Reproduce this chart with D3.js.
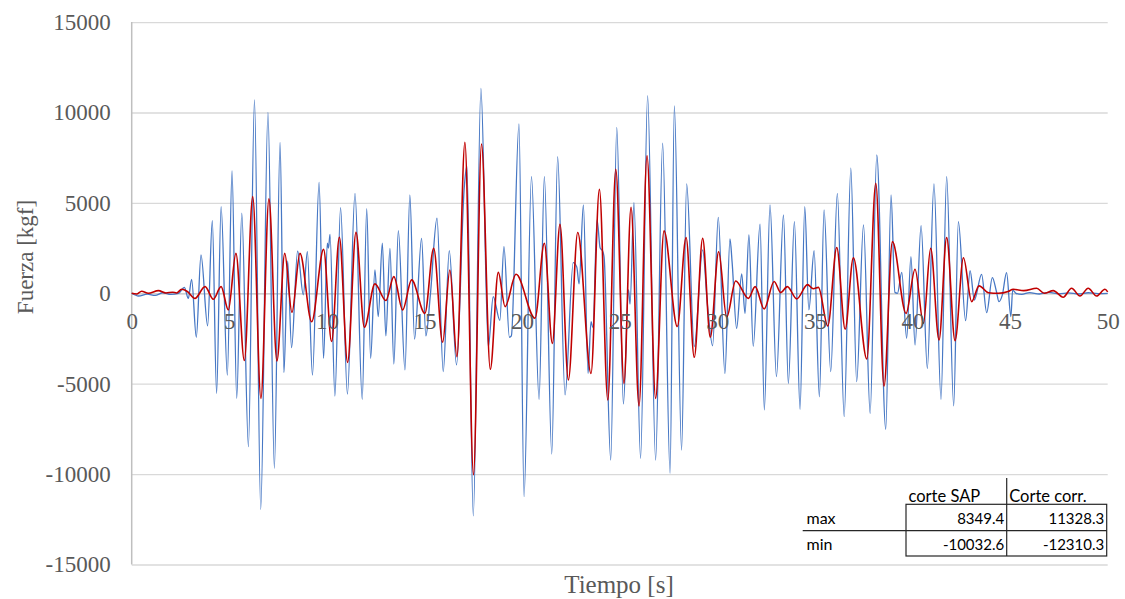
<!DOCTYPE html>
<html>
<head>
<meta charset="utf-8">
<script src="https://cdn.jsdelivr.net/npm/d3@7"></script>
<style>
  html, body { margin: 0; padding: 0; background: #fff; }
  svg { display: block; }
</style>
</head>
<body>
<svg id="chart" width="1125" height="599"></svg>
<script>
// Shear force time history: corrected shear vs. SAP shear (local extrema, kgf)
const timeCorr = [0,0.35,0.8,1.2,1.6,2.0,2.4,2.7,2.9,3.07,3.31,3.55,3.89,4.13,4.35,4.58,4.9,5.14,5.38,5.64,5.98,6.29,6.61,6.98,7.31,7.6,7.8,7.99,8.19,8.5,8.79,9.0,9.26,9.6,9.83,10.02,10.08,10.16,10.41,10.7,11.05,11.44,11.81,12.04,12.24,12.46,12.63,12.84,13.02,13.23,13.43,13.66,14.0,14.25,14.49,14.85,15.07,15.3,15.64,15.96,16.27,16.64,17.04,17.17,17.5,17.89,18.27,18.52,18.86,19.07,19.35,19.45,19.84,20.1,20.48,20.87,21.14,21.52,21.82,22.2,22.62,22.8,22.92,23.14,23.38,23.53,23.63,23.84,24.0,24.12,24.2,24.54,24.85,25.19,25.45,25.53,25.73,26.07,26.43,26.84,27.2,27.58,27.8,28.17,28.43,28.82,29.25,29.5,29.76,30.05,30.39,30.65,30.76,30.99,31.25,31.42,31.62,31.84,32.19,32.41,32.7,33.03,33.39,33.64,33.95,34.24,34.48,34.69,34.96,35.23,35.47,35.81,36.15,36.5,36.84,37.14,37.49,37.83,38.17,38.63,38.9,39.1,39.23,39.45,39.7,39.92,40.13,40.44,40.76,41.1,41.46,41.75,42.11,42.35,42.72,42.95,43.17,43.54,43.8,44.09,44.3,44.43,44.6,44.82,45.04,45.13,45.3,45.6,46.0,46.5,47.0,47.5,48.0,48.5,49.0,49.5,50.0];
const corteCorr = [0,-150,-50,-120,30,-60,0,330,-280,775,-2430,2120,-1800,4020,-5530,4790,-4520,6770,-5810,4430,-8480,10700,-11950,10010,-9680,8350,-4390,1790,-3010,2330,-90,2300,-4520,6140,-3600,2770,2500,3260,-5680,4740,-5570,5530,-5860,4680,-3600,1290,-1290,2770,-2360,2490,-3910,3470,-4240,5440,-2540,3040,-2360,-90,4150,-4330,2360,-3960,5900,7040,-12310.3,11328.3,-2950,-180,-1500,2580,-2430,-2350,9370,-11250,6450,-5860,6450,-8890,7560,-5620,1700,1450,520,4890,-4430,-1570,-1900,4060,2500,2350,2000,-9220,9180,-6120,200,-600,5020,-9130,10930,-9220,8300,-9960,10360,-8670,6050,-2950,2400,-700,-2900,4200,-4430,3010,1700,-1940,1070,-1110,3230,-2930,3820,-6450,4890,-4610,4330,-4980,3960,-6420,4790,-920,2360,-5720,4610,-4330,5530,-6820,6920,-4890,3780,-6640,7650,-7520,5440,50,0,1160,-2490,2030,-2860,3740,-4150,6050,-5860,6450,-6230,3960,-1510,1250,-370,1050,-1070,870,100,-460,-100,1140,-1290,180,0,-60,40,-40,50,-30,20,-40,30,-20,0];

const timeSap = [0,0.25,0.51,0.85,1.37,1.75,2.1,2.3,2.56,2.85,3.24,3.76,4.18,4.58,4.95,5.34,5.77,6.2,6.62,7.03,7.44,7.84,8.21,8.62,9.22,9.83,10.24,10.64,11.06,11.49,11.92,12.46,13.02,13.43,13.88,14.34,15.02,15.47,15.93,16.3,16.66,17.07,17.51,17.92,18.37,18.78,19.13,19.69,20.66,21.14,21.55,21.94,22.37,22.85,23.53,23.96,24.39,24.8,25.22,25.58,25.99,26.4,26.84,27.27,27.95,28.4,28.82,29.25,29.64,30.07,30.48,30.94,31.59,31.94,32.4,32.91,33.25,33.59,34.07,34.62,34.92,35.18,35.66,36.12,36.55,36.97,37.66,38.12,38.54,38.97,39.67,40.13,40.56,40.93,41.36,41.75,42.18,42.61,43.03,43.41,43.89,44.4,44.9,45.16,45.7,46.36,46.75,47.21,47.72,48.15,48.58,49.0,49.43,49.86,50.0];
const corteSap = [0,-40,110,0,150,20,60,20,220,100,-280,370,-330,370,-920,2210,-3720,5350,-5810,5220,-3740,2210,-1050,2210,-1570,2430,-2670,3100,-3820,3370,-1880,520,-400,920,-920,740,-1110,2490,-2710,1290,-3500,8349.4,-10032.6,8260,-4200,1160,-740,1050,-1380,2770,-2770,3820,-4790,3360,-4430,5750,-5900,6860,-4980,4760,-6230,7600,-5810,3450,-1840,3080,-3540,3040,-2430,2300,-1330,680,-280,370,-870,650,40,370,-310,480,250,330,-1810,2530,-1990,1970,-3630,6090,-5130,2860,-1110,1330,-1660,2490,-2580,3080,-2620,1970,-460,410,30,0,100,220,150,280,0,150,-220,280,-150,280,-150,220,80];

const xTicks = [0,5,10,15,20,25,30,35,40,45,50];
const yTicks = [-15000,-10000,-5000,0,5000,10000,15000];

// Summary table
const tableCols = ["corte SAP", "Corte corr."];
const tableRows = ["max", "min"];
const tableVals = [["8349.4", "11328.3"], ["-10032.6", "-12310.3"]];

const svg = d3.select("#chart");
const plotL = 131.7, plotR = 1107.7, plotT = 22.1, plotB = 564.5;

const x = d3.scaleLinear().domain([0, 50]).range([plotL, plotR]);
const y = d3.scaleLinear().domain([-15000, 15000]).range([plotB, plotT]);

const serif = "'Liberation Serif', 'Times New Roman', serif";
const labelColor = "#595959";
const plainNum = d => String(d);

// Horizontal gridlines
svg.append("g")
  .attr("transform", `translate(${plotL},0)`)
  .call(d3.axisLeft(y).tickValues(yTicks).tickSize(-(plotR - plotL)).tickFormat(""))
  .call(g => g.select(".domain").remove())
  .call(g => g.selectAll(".tick line")
    .attr("stroke", d => d === 0 ? "#bfbfbf" : "#d9d9d9")
    .attr("stroke-width", 1.3));

// Vertical axis line
svg.append("line")
  .attr("x1", plotL).attr("x2", plotL)
  .attr("y1", y(15000)).attr("y2", y(-15000))
  .attr("stroke", "#bfbfbf").attr("stroke-width", 1.5);

// Y tick labels
svg.append("g")
  .attr("transform", `translate(${plotL},0)`)
  .call(d3.axisLeft(y).tickValues(yTicks).tickSize(0).tickPadding(21).tickFormat(plainNum))
  .call(g => g.select(".domain").remove())
  .call(g => g.selectAll("text")
    .attr("font-family", serif).attr("font-size", 23).attr("fill", labelColor));

// Series lines
const lineCorr = d3.line()
  .x((d, i) => x(timeCorr[i]))
  .y(d => y(d))
  .curve(d3.curveMonotoneX);
const lineSap = d3.line()
  .x((d, i) => x(timeSap[i]))
  .y(d => y(d))
  .curve(d3.curveMonotoneX);

svg.append("path")
  .datum(corteCorr)
  .attr("fill", "none")
  .attr("stroke", "#4677c4")
  .attr("stroke-width", 1.3)
  .attr("stroke-linejoin", "round")
  .attr("d", lineCorr);

svg.append("path")
  .datum(corteSap)
  .attr("fill", "none")
  .attr("stroke", "#C00000")
  .attr("stroke-width", 1.6)
  .attr("stroke-linejoin", "round")
  .attr("d", lineSap);

// X tick labels along the zero line
svg.append("g")
  .attr("transform", `translate(0,${y(0)})`)
  .call(d3.axisBottom(x).tickValues(xTicks).tickSize(0).tickPadding(19).tickFormat(plainNum))
  .call(g => g.select(".domain").remove())
  .call(g => g.selectAll("text")
    .attr("font-family", serif).attr("font-size", 23).attr("fill", labelColor));

// Axis titles
svg.append("text")
  .attr("transform", `translate(33,257) rotate(-90)`)
  .attr("text-anchor", "middle")
  .attr("font-family", serif).attr("font-size", 23).attr("fill", labelColor)
  .text("Fuerza [kgf]");

svg.append("text")
  .attr("x", 619).attr("y", 593)
  .attr("text-anchor", "middle")
  .attr("font-family", serif).attr("font-size", 25).attr("fill", labelColor)
  .text("Tiempo [s]");

// Max/min table
const tFont = "Lato, 'Noto Sans', sans-serif";
const tb = svg.append("g");
const colL = [906, 1006.7], colR = 1106.7;
const rowBase = [524, 550];
const lineCol = "#262626";

tb.append("rect")
  .attr("x", colL[0]).attr("y", 504.3)
  .attr("width", colR - colL[0]).attr("height", 556 - 504.3)
  .attr("fill", "none").attr("stroke", lineCol).attr("stroke-width", 1.2);
tb.append("line")
  .attr("x1", colL[1]).attr("x2", colL[1]).attr("y1", 478).attr("y2", 556)
  .attr("stroke", lineCol).attr("stroke-width", 1.2);
tb.append("line")
  .attr("x1", 802.7).attr("x2", colR).attr("y1", 530.7).attr("y2", 530.7)
  .attr("stroke", lineCol).attr("stroke-width", 1.2);

tableCols.forEach((c, j) => {
  tb.append("text")
    .attr("x", colL[j] + 2.5).attr("y", 501.5)
    .attr("font-family", tFont).attr("font-size", 16.5).attr("fill", "#000")
    .text(c);
});
tableRows.forEach((r, i) => {
  tb.append("text")
    .attr("x", 806.5).attr("y", rowBase[i])
    .attr("font-family", tFont).attr("font-size", 16).attr("fill", "#000")
    .text(r);
  tableVals[i].forEach((v, j) => {
    tb.append("text")
      .attr("x", (j === 0 ? colL[1] : colR) - 2.5).attr("y", rowBase[i])
      .attr("text-anchor", "end")
      .attr("font-family", tFont).attr("font-size", 15).attr("fill", "#000")
      .text(v);
  });
});
</script>
</body>
</html>
